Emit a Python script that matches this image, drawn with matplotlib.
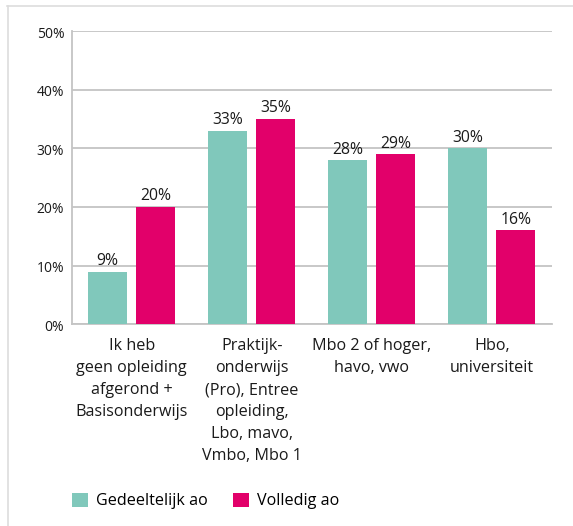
import matplotlib
matplotlib.use("Agg")
import matplotlib.pyplot as plt
import matplotlib.transforms as mtransforms
from matplotlib.lines import Line2D
from matplotlib.patches import Patch
import numpy as np

plt.rcParams['font.family'] = ['Open Sans', 'DejaVu Sans']

categories = ["Ik heb\ngeen opleiding\nafgerond +\nBasisonderwijs",
              "Praktijk-\nonderwijs\n(Pro), Entree\nopleiding,\nLbo, mavo,\nVmbo, Mbo 1",
              "Mbo 2 of hoger,\nhavo, vwo",
              "Hbo,\nuniversiteit"]
gedeeltelijk = [9, 33, 28, 30]
volledig = [20, 35, 29, 16]
series_names = ["Gedeeltelijk ao", "Volledig ao"]
yticks = [0, 10, 20, 30, 40, 50]

green = "#80C8BB"
pink = "#E2006A"
grid_c = "#C4C4C4"
txt = "#1A1A1A"

W, H = 573, 526
fig = plt.figure(figsize=(W/100, H/100), dpi=100)
ax = fig.add_axes([71.7/W, 201.7/H, 480/W, 293.3/H])

x = np.arange(len(categories))
w = 0.325
off = 0.2
b1 = ax.bar(x - off, gedeeltelijk, w, color=green, zorder=3)
b2 = ax.bar(x + off, volledig, w, color=pink, zorder=3)
for bars, vals in ((b1, gedeeltelijk), (b2, volledig)):
    for r, v in zip(bars, vals):
        ax.annotate(f"{v}%", (r.get_x() + r.get_width()/2, v),
                    xytext=(0, 1.8), textcoords="offset points",
                    ha="center", va="bottom", fontsize=11.3, color=txt)

ax.set_xlim(-0.5, 3.5)
ax.set_ylim(0, 50)
ax.set_yticks(yticks)
ax.set_yticklabels([])
# y tick labels, drawn slightly below their gridlines as in the reference
ytrans = mtransforms.blended_transform_factory(ax.transAxes, ax.transData) + \
    mtransforms.ScaledTranslation(-7.5/100, -3/100, fig.dpi_scale_trans)
for t in yticks:
    ax.text(0, t, f"{t}%", transform=ytrans, ha="right", va="center",
            fontsize=10, color=txt)
ax.set_xticks(x)
ax.set_xticklabels(categories, fontsize=11.6, color=txt, linespacing=1.5, va="top")
ax.tick_params(axis="x", length=0, pad=10)
ax.tick_params(axis="y", length=0)
ax.yaxis.grid(True, color=grid_c, linewidth=1.3, zorder=0)
for s in ("top", "right"):
    ax.spines[s].set_visible(False)
for s in ("left", "bottom"):
    ax.spines[s].set_color(grid_c)
    ax.spines[s].set_linewidth(1.3)

handles = [Patch(facecolor=green, edgecolor="none"), Patch(facecolor=pink, edgecolor="none")]
fig.legend(handles, series_names, loc="center left", bbox_to_anchor=(72/W, 1 - 501/H),
           ncol=2, frameon=False, fontsize=11.6, handlelength=1.0, handleheight=1.0,
           handletextpad=0.5, columnspacing=1.55, borderpad=0, borderaxespad=0)

# outer light border
fig.add_artist(Line2D([7/W, 1], [1 - 5.5/H, 1 - 5.5/H], color="#DDDDDD", linewidth=1.2))
fig.add_artist(Line2D([7.5/W, 7.5/W], [0, 1 - 5.5/H], color="#DDDDDD", linewidth=1.2))

fig.savefig("out.png", dpi=100)
